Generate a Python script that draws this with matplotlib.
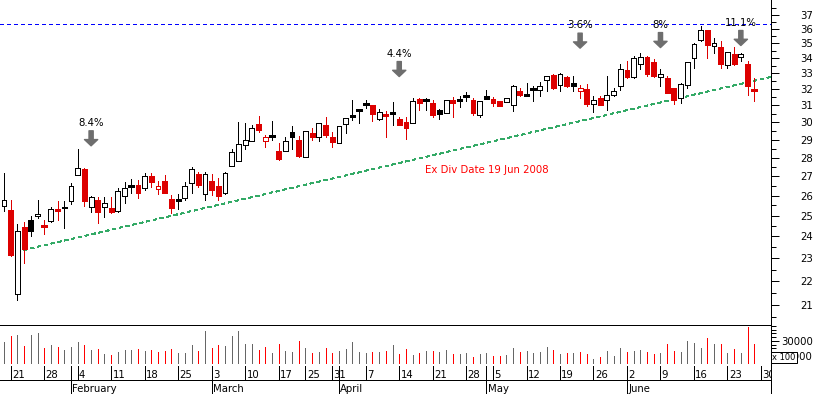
import matplotlib
matplotlib.use("Agg")
import matplotlib.pyplot as plt
from matplotlib.patches import Rectangle
from matplotlib.ticker import FixedLocator, NullFormatter

plt.rcParams['font.family'] = 'DejaVu Sans'
plt.rcParams['font.size'] = 7.3

# daily OHLC, 18 Jan 2008 .. 27 Jun 2008 (trading day index 0..112)
opens = [25.48, 25.28, 21.44, 24.47, 24.79, 24.96, 24.50, 24.75, 25.28, 25.42,
         25.70, 27.06, 27.37, 25.43, 25.78, 25.44, 25.36, 25.21, 25.98, 26.50,
         26.55, 26.38, 27.02, 26.33, 26.73, 25.83, 25.83, 25.87, 26.64, 27.12,
         26.07, 26.73, 26.50, 26.12, 27.56, 27.82, 28.67, 28.93, 29.91, 28.93,
         29.23, 28.37, 28.38, 29.43, 28.98, 28.03, 29.37, 29.14, 29.85, 29.17,
         28.82, 29.89, 30.34, 30.74, 31.08, 31.04, 30.21, 30.48, 30.52, 30.21,
         30.04, 29.93, 31.37, 31.31, 31.14, 30.74, 30.54, 31.33, 31.34, 31.55,
         31.33, 30.44, 31.59, 31.37, 31.26, 31.20, 31.00, 31.90, 31.65, 32.00,
         31.98, 32.56, 32.87, 32.27, 32.78, 32.42, 31.90, 32.00, 31.08, 31.46,
         31.34, 31.62, 32.23, 33.23, 32.76, 33.61, 34.07, 33.74, 32.78, 32.72,
         32.05, 31.46, 32.27, 33.98, 35.26, 35.94, 34.80, 34.78, 33.58, 34.26,
         34.10, 33.61, 31.98]
highs = [27.18, 25.78, 24.60, 24.71, 24.99, 25.78, 24.79, 25.43, 25.70, 25.73,
         26.66, 28.46, 27.46, 25.98, 25.91, 25.91, 25.91, 26.38, 26.68, 26.84,
         26.81, 27.18, 27.15, 26.73, 27.07, 26.03, 26.08, 26.71, 27.51, 27.23,
         27.23, 27.10, 26.93, 27.23, 28.50, 30.03, 29.94, 29.85, 30.38, 29.27,
         30.07, 28.80, 29.14, 29.79, 29.21, 29.50, 29.69, 29.94, 30.28, 29.43,
         29.79, 30.25, 31.34, 30.74, 31.34, 31.04, 30.80, 30.64, 31.20, 30.28,
         30.31, 31.48, 31.48, 31.45, 31.34, 30.80, 31.31, 31.51, 31.57, 31.83,
         31.46, 31.26, 31.97, 31.51, 31.30, 31.46, 32.27, 32.06, 32.42, 32.21,
         32.45, 32.86, 32.95, 33.02, 32.86, 32.86, 32.27, 32.31, 31.56, 31.56,
         32.86, 32.08, 33.60, 33.81, 34.13, 34.33, 34.17, 33.94, 33.29, 32.85,
         32.08, 32.37, 33.77, 35.03, 36.18, 35.95, 35.37, 35.19, 34.42, 34.77,
         34.37, 33.81, 32.72]
lows = [25.24, 23.10, 21.18, 22.81, 24.00, 24.86, 24.12, 24.67, 24.79, 24.38,
        25.56, 27.05, 25.49, 25.16, 24.63, 24.91, 25.14, 25.20, 25.61, 26.15,
        25.87, 26.29, 26.46, 26.08, 26.14, 25.13, 25.33, 25.78, 26.12, 26.41,
        25.78, 26.03, 25.78, 26.07, 27.55, 27.80, 28.48, 28.92, 29.41, 28.61,
        28.98, 27.89, 28.37, 28.47, 28.01, 28.03, 28.98, 28.93, 29.12, 28.61,
        28.82, 29.37, 30.14, 29.94, 30.84, 30.08, 30.15, 29.17, 29.85, 29.82,
        29.06, 29.93, 30.74, 30.74, 30.28, 30.21, 30.54, 30.31, 30.93, 31.26,
        30.40, 30.31, 31.37, 30.99, 30.94, 31.19, 30.64, 31.56, 31.65, 31.30,
        31.56, 31.90, 32.03, 31.90, 32.16, 31.90, 31.46, 30.99, 30.60, 31.00,
        30.74, 31.56, 31.98, 32.72, 32.68, 33.29, 32.85, 32.78, 32.23, 31.76,
        31.08, 31.17, 32.05, 33.38, 35.19, 34.04, 34.33, 33.38, 33.38, 33.53,
        33.79, 31.65, 31.26]
closes = [25.78, 23.15, 24.26, 23.43, 24.28, 25.07, 24.50, 25.33, 25.28, 25.36,
          26.50, 27.44, 25.70, 25.91, 25.16, 25.61, 25.16, 26.24, 26.38, 26.50,
          26.12, 27.02, 26.70, 26.50, 26.15, 25.38, 25.70, 26.50, 27.37, 26.55,
          27.13, 26.29, 25.98, 27.17, 28.30, 28.74, 28.96, 29.65, 29.56, 29.14,
          29.23, 27.94, 28.93, 29.12, 28.06, 29.50, 29.17, 29.93, 29.27, 28.89,
          29.79, 30.24, 30.34, 30.74, 31.08, 30.48, 30.60, 30.34, 30.52, 29.85,
          29.69, 31.26, 31.15, 31.31, 30.44, 30.46, 31.31, 31.15, 31.34, 31.55,
          30.54, 31.26, 31.37, 31.15, 30.95, 31.46, 32.21, 31.62, 31.65, 32.00,
          32.21, 32.85, 32.06, 32.95, 32.17, 32.23, 32.05, 31.08, 31.31, 31.04,
          31.65, 31.90, 33.29, 32.78, 34.02, 34.06, 32.97, 32.86, 32.95, 31.78,
          31.34, 32.31, 33.74, 34.97, 35.94, 34.89, 35.03, 33.61, 34.41, 33.61,
          34.26, 32.17, 31.98]
# volume in hundreds of shares
volumes = [28300, 36300, 37600, 22900, 37600, 40300, 20300, 24300, 21600, 17600,
           21600, 28300, 24300, 17600, 18900, 12300, 10900, 14900, 17600, 17600,
           18900, 16300, 17600, 14900, 16300, 18900, 13600, 13600, 24300, 16300,
           42900, 20300, 24300, 22900, 36300, 42900, 25600, 25600, 17600, 21600,
           13600, 25600, 16300, 14900, 29600, 20300, 13600, 14900, 20300, 13600,
           16300, 18900, 28300, 14900, 13600, 14900, 14900, 16300, 24300, 12300,
           18900, 10900, 13600, 16300, 16300, 14900, 17600, 12300, 12300, 13600,
           8300, 12300, 13600, 9600, 9600, 10900, 20300, 14900, 16300, 13600,
           14900, 21600, 17600, 12300, 13600, 13600, 14900, 12300, 5600, 8300,
           16300, 9600, 20300, 14900, 16300, 17600, 14900, 12300, 13600, 25600,
           16300, 14900, 29600, 26900, 20300, 33600, 25600, 25600, 13600, 18900,
           13600, 48300, 25600]

# weekly date labels and month starts (trading day index)
week_idx = [1, 6, 11, 16, 21, 26, 31, 36, 41, 45, 49, 54, 59, 64, 69, 73,
            78, 83, 88, 93, 98, 103, 108, 113]
week_labels = ['21', '28', '4', '11', '18', '25', '3', '10', '17', '25', '31', '7',
               '14', '21', '28', '5', '12', '19', '26', '2', '9', '16', '23', '30']
month_idx = [10, 31, 50, 72, 93]
month_labels = ['February', 'March', 'April', 'May', 'June']

# annotations
arrow_idx = [13, 59, 86, 98, 110]
arrow_tip = [28.65, 32.80, 34.67, 34.71, 34.85]
arrow_text = ['8.4%', '4.4%', '3.6%', '8%', '11.1%']
resistance = 36.33
trend_x = [0.9, 114.5]
trend_y = [23.23, 32.78]
exdiv_x, exdiv_y = 62.9, 27.16

RED = '#dd0000'
PX = 0.72  # one pixel in points at 100 dpi

fig = plt.figure(figsize=(8.17, 3.94), dpi=100)
W = 771 / 817
ax = fig.add_axes([0, 69 / 394, W, 325 / 394])
axv = fig.add_axes([0, 28 / 394, W, 41 / 394])
axd = fig.add_axes([0, 0, W, 28 / 394])

n = len(closes)
xmin, xmax = -0.6, 114.5

# candles
bw = 0.72
for i in range(n):
    o, h, l, c = opens[i], highs[i], lows[i], closes[i]
    down = i > 0 and c < closes[i - 1]
    col = RED if down else 'black'
    ax.vlines(i, l, h, colors=col, lw=PX, antialiased=False, zorder=2)
    if abs(c - o) < 0.015:
        ax.hlines(c, i - 0.42, i + 0.42, colors=col, lw=PX * 1.2, antialiased=False, zorder=3)
    else:
        face = col if c < o else 'white'
        ax.add_patch(Rectangle((i - bw / 2, min(o, c)), bw, abs(c - o), facecolor=face,
                               edgecolor=col, lw=PX, antialiased=False, zorder=3))

ax.set_yscale('log')
ax.set_ylim(20.19, 38.09)
ax.set_xlim(xmin, xmax)

# resistance and trend lines
ax.axhline(resistance, color='#0000ff', lw=PX, ls=(0, (3, 3)), antialiased=False, zorder=1)
ax.plot(trend_x, trend_y, color='#33aa66', lw=PX, ls=(0, (3, 3)), antialiased=False, zorder=1)

ax.text(exdiv_x, exdiv_y, 'Ex Div Date 19 Jun 2008', color='#ff0000', fontsize=7.3,
        ha='left', va='baseline')

for xi, tip, lab in zip(arrow_idx, arrow_tip, arrow_text):
    ax.annotate('', xy=(xi, tip), xytext=(0, 15), textcoords='offset pixels',
                arrowprops=dict(arrowstyle='simple,head_length=0.45,head_width=0.95,tail_width=0.3',
                                color='#6e6e6e', shrinkA=0, shrinkB=0, mutation_scale=10),
                zorder=4)
    ax.annotate(lab, xy=(xi, tip), xytext=(0, 20), textcoords='offset pixels',
                ha='center', va='baseline', fontsize=7.3, zorder=5)

# price axis on the right
ax.yaxis.tick_right()
ax.yaxis.set_major_locator(FixedLocator(list(range(21, 38))))
ax.set_yticklabels([str(v) for v in range(21, 38)])
ax.yaxis.set_minor_locator(FixedLocator([v + 0.5 for v in range(20, 38)]))
ax.yaxis.set_minor_formatter(NullFormatter())
ax.tick_params(axis='y', which='major', length=5.8, width=PX, pad=24.5)
ax.tick_params(axis='y', which='minor', length=3.6, width=PX)
plt.setp(ax.get_yticklabels(), ha='right')
ax.set_xticks([])
for s in ['left', 'top', 'bottom']:
    ax.spines[s].set_visible(False)
ax.spines['right'].set_linewidth(PX)

# volume
vcols = ['#ff0000' if i > 0 and closes[i] < closes[i - 1] else '#666666' for i in range(n)]
axv.vlines(range(n), 0, volumes, colors=vcols, lw=PX, antialiased=False)
axv.set_xlim(xmin, xmax)
axv.set_ylim(-3470, 51190)
axv.yaxis.tick_right()
axv.set_yticks([10000, 30000])
axv.set_yticklabels(['10000', '30000'])
axv.set_yticks([k * 5000 for k in range(11)], minor=True)
axv.yaxis.set_minor_formatter(NullFormatter())
axv.tick_params(axis='y', which='major', length=5.8, width=PX, pad=24.5)
axv.tick_params(axis='y', which='minor', length=3.6, width=PX)
plt.setp(axv.get_yticklabels(), ha='right')
axv.set_xticks([])
axv.spines['left'].set_visible(False)
for s in ['top', 'right', 'bottom']:
    axv.spines[s].set_linewidth(PX)

fig.text(784 / 817, 1 - 357 / 394, 'x 100', ha='center', va='center', fontsize=6,
         bbox=dict(boxstyle='square,pad=0.12', fc='white', ec='black', lw=PX))

# date axis
axd.set_xlim(xmin, xmax)
axd.set_ylim(0, 28)
axd.axis('on')
axd.set_xticks([])
axd.set_yticks([])
for s in ['left', 'top', 'bottom']:
    axd.spines[s].set_visible(False)
axd.spines['right'].set_linewidth(PX)
axd.hlines(14, xmin, xmax, colors='black', lw=PX, antialiased=False)
axd.vlines(week_idx, 14, 28, colors='black', lw=PX, antialiased=False)
axd.vlines(month_idx, 0, 28, colors='black', lw=PX, antialiased=False)
for xi, lab in zip(week_idx, week_labels):
    axd.text(xi + 0.2, 16, lab, ha='left', va='baseline', fontsize=7.3, clip_on=True)
for xi, lab in zip(month_idx, month_labels):
    axd.text(xi + 0.2, 2, lab, ha='left', va='baseline', fontsize=7.3, clip_on=True)

fig.savefig('out.png', dpi=100, facecolor='white')
